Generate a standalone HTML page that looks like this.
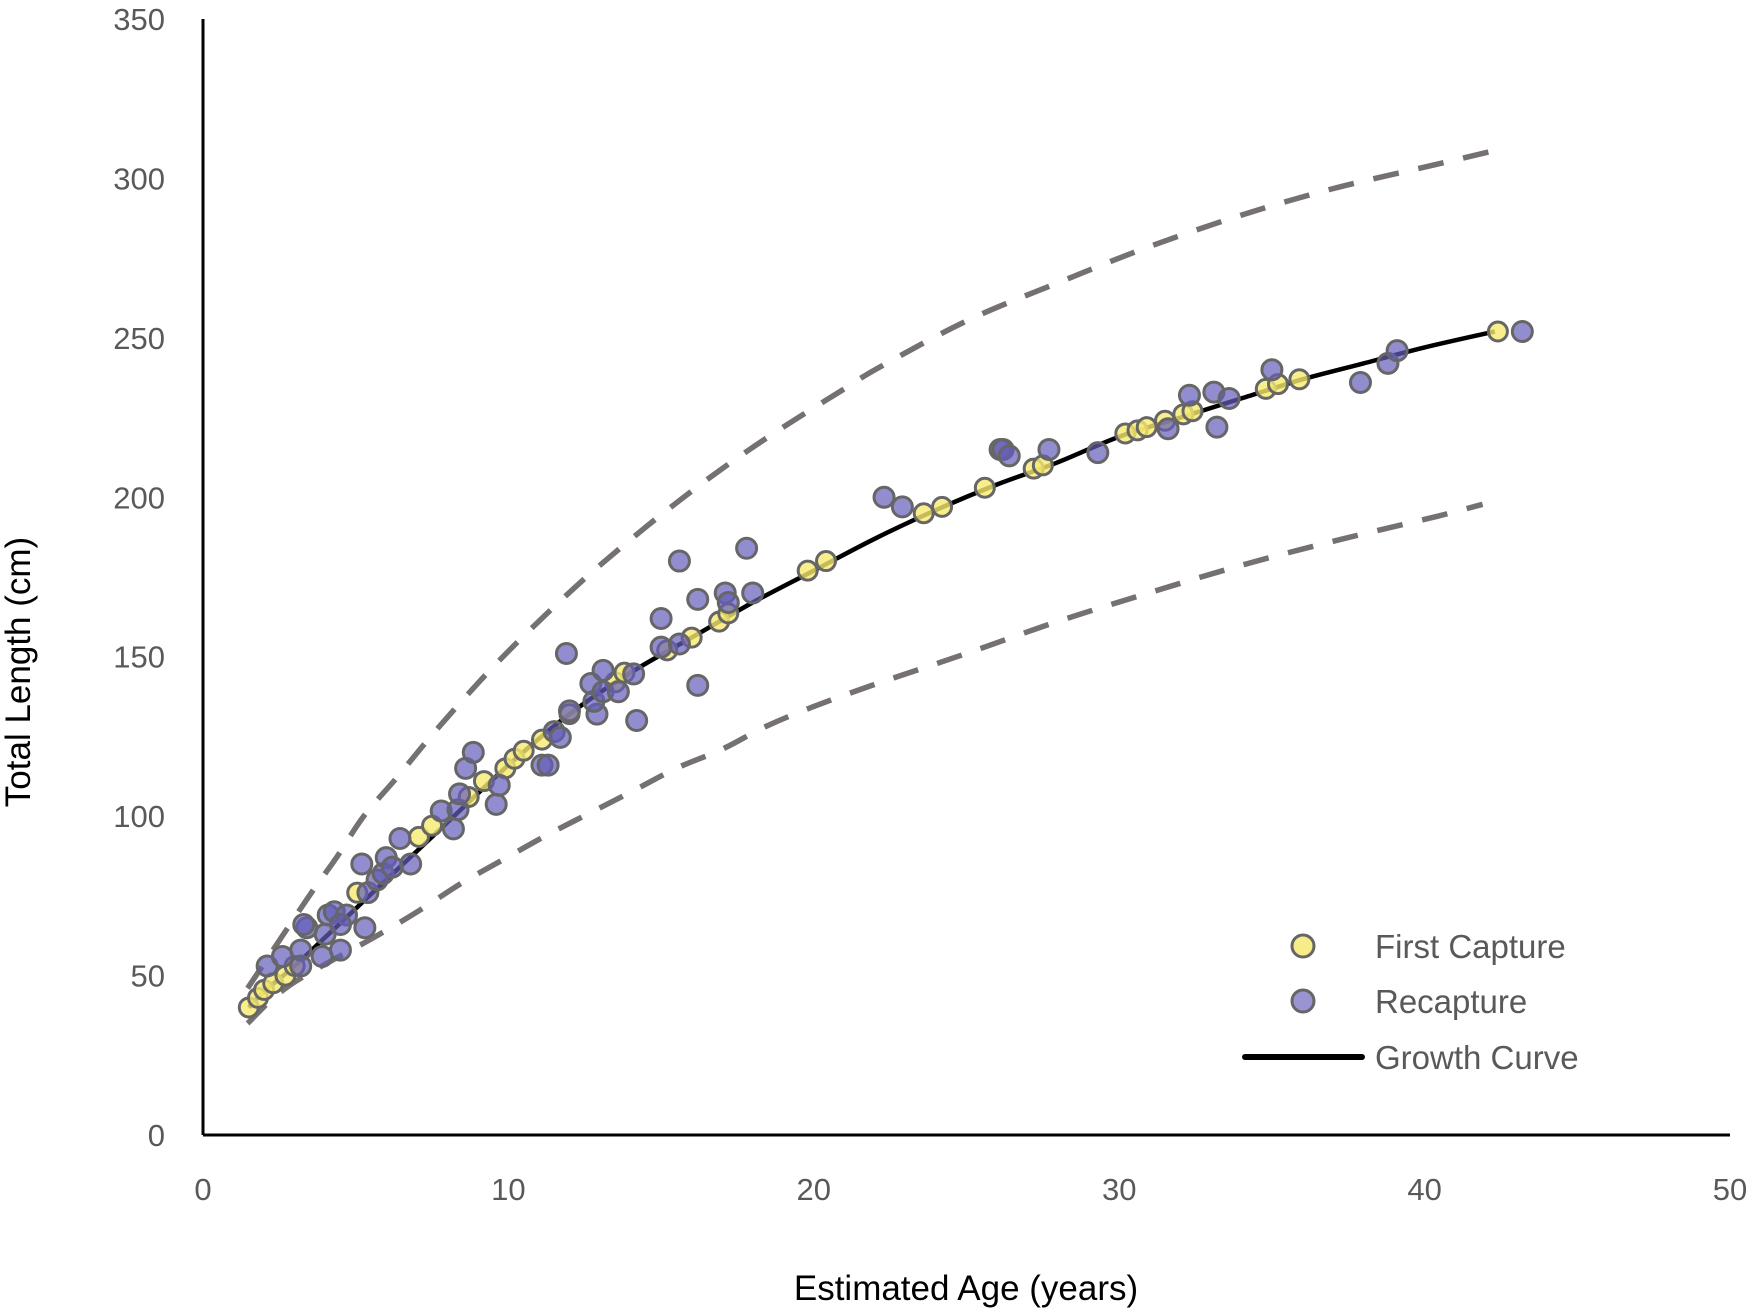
<!DOCTYPE html>
<html><head><meta charset="utf-8"><style>
html,body{margin:0;padding:0;background:#fff;}
svg{display:block;font-family:"Liberation Sans",sans-serif;}
</style></head><body>
<svg id="chart" width="1752" height="1312" viewBox="0 0 1752 1312" xmlns="http://www.w3.org/2000/svg">
<g id="lines"></g>
<g id="points"></g>
<g id="axes"></g>
<g id="legend">
  <circle cx="1303" cy="946" r="11" fill="#f7ec8a" stroke="#666" stroke-width="3"/>
  <text x="1375" y="958" font-size="33" fill="#595959">First Capture</text>
  <circle cx="1303" cy="1001" r="11" fill="#9a94d0" stroke="#666" stroke-width="3"/>
  <text x="1375" y="1013" font-size="33" fill="#595959">Recapture</text>
  <line x1="1245" y1="1057" x2="1362" y2="1057" stroke="#000" stroke-width="6" stroke-linecap="round"/>
  <text x="1375" y="1069" font-size="33" fill="#595959">Growth Curve</text>
</g>
<text x="966" y="1300" font-size="35" text-anchor="middle" fill="#000">Estimated Age (years)</text>
<text transform="translate(30,672) rotate(-90)" font-size="35" text-anchor="middle" fill="#000">Total Length (cm)</text>
</svg>
<script>
const xTicks = [0,10,20,30,40,50];
const yTicks = [0,50,100,150,200,250,300,350];
const curveAge = [1.5,2,3,4,5,6,8,10,12,14,16,18,20,22,24,26,28,30,32,34,36,38,40,42.3];
const curveLen = [40,45,53,62,71,80,98,116,132,145,156,167,177,187,196,204,211,219,225,231,237,242,247,252];
const upperAge = [1.46,3.4,4.35,5.25,6.34,7.37,8.42,9.5,10.64,11.8,13,15,17,19,21,22.1,25.0,28.0,30.9,34.0,37.0,40.2,42.2];
const upperLen = [46,73.9,86.7,99.8,112,124,135.5,146.8,157.8,168.4,178.7,194.5,209,222,234,240.5,255.3,267.3,278.3,288.5,296.8,304,308.5];
const lowerAge = [1.46,2.85,5.73,7.1,8.47,9.8,11.25,12.67,14.1,15.5,17,18.4,19.9,21.9,24.9,28,31.1,34.2,37.3,40.4,41.9];
const lowerLen = [35,47,62.7,70.5,79,86.2,94,101,108,115,121,128,134,141,150.7,161.1,170.4,179.2,186.9,194,197.8];
const firstAge = [1.5,1.8,2,2.3,2.7,3.0,5.05,7.07,7.5,8.7,9.2,9.9,10.2,10.5,11.1,12,13.5,13.8,15.2,16,16.9,17.2,19.8,20.4,23.6,24.2,25.6,27.2,27.5,30.2,30.6,30.9,31.5,32.1,32.4,34.8,35.2,35.9,42.4];
const firstLen = [40,43,45.5,47.6,50,53,76,93.5,97,106,111,115,118,120.5,124,132,142,145,152,156,161,163.6,177,180,195,197,203,209,210,220,221,222,224,226,227,234,235.5,237,252];
const recapAge = [2.1,2.6,3.2,3.4,3.3,3.2,3.9,4,4.1,4.3,4.5,4.7,4.5,5.2,5.3,5.4,5.7,5.9,6,6.2,6.45,6.8,7.8,8.2,8.35,8.4,8.6,8.85,9.6,9.7,11.1,11.3,11.5,11.7,11.9,12,12.7,12.9,12.8,13.1,13.1,13.6,14.2,14.1,15,15,15.6,15.6,16.2,16.2,17.1,17.2,17.8,18,22.3,22.9,26.1,26.2,26.4,27.7,29.3,32.3,31.6,33.1,33.2,33.6,35,37.9,38.8,39.1,43.2];
const recapLen = [53,56,58,65,66,53,56,63,69,70,58,69,66,85,65,76,80,82,87,84,93,85,101.6,96,102,107,115,120,103.7,109.7,116,116,126.5,124.7,151,133,141.6,132,136,145.7,139,139,130,144.6,162,153,180,154,168,141,170,167,184,170,200,197,215,215,213,215,214,232,221.5,233,222,231,240,236,242,246,252];

const X0=203, X1=1730, Y0=1135, Y1=19;
const xs = v => X0 + (v/50)*(X1-X0);
const ys = v => Y0 - (v/350)*(Y0-Y1);
const NS="http://www.w3.org/2000/svg";
function mk(tag, parent){const e=document.createElementNS(NS,tag);parent.appendChild(e);return e;}

const axes=document.getElementById('axes');
xTicks.forEach(t=>{
  const e=mk('text',axes);
  
  
  e.setAttribute('x',xs(t));e.setAttribute('y',1200);
  e.setAttribute('font-size','31');e.setAttribute('fill','#595959');e.setAttribute('text-anchor','middle');
  e.textContent=t;
});
yTicks.forEach(t=>{
  const e=mk('text',axes);
  
  
  e.setAttribute('x',165);e.setAttribute('y',ys(t)+11);
  e.setAttribute('font-size','31');e.setAttribute('fill','#595959');e.setAttribute('text-anchor','end');
  e.textContent=t;
});
const ya=mk('line',axes);


ya.setAttribute('x1',X0);ya.setAttribute('x2',X0);ya.setAttribute('y1',Y1);ya.setAttribute('y2',Y0);ya.setAttribute('stroke','#000');ya.setAttribute('stroke-width','3');
const xa=mk('line',axes);


xa.setAttribute('x1',X0);xa.setAttribute('x2',X1);xa.setAttribute('y1',Y0);xa.setAttribute('y2',Y0);xa.setAttribute('stroke','#000');xa.setAttribute('stroke-width','3');

const lines=document.getElementById('lines');
function path(ax,ay){
  const p=ax.map((a,i)=>[xs(a),ys(ay[i])]);
  let d='M'+p[0][0].toFixed(1)+' '+p[0][1].toFixed(1);
  for(let i=0;i<p.length-1;i++){
    const p0=p[Math.max(0,i-1)],p1=p[i],p2=p[i+1],p3=p[Math.min(p.length-1,i+2)];
    const c1=[p1[0]+(p2[0]-p0[0])/6,p1[1]+(p2[1]-p0[1])/6];
    const c2=[p2[0]-(p3[0]-p1[0])/6,p2[1]-(p3[1]-p1[1])/6];
    d+=' C'+c1[0].toFixed(1)+' '+c1[1].toFixed(1)+' '+c2[0].toFixed(1)+' '+c2[1].toFixed(1)+' '+p2[0].toFixed(1)+' '+p2[1].toFixed(1);
  }
  return d;
}
const up=mk('path',lines);


up.setAttribute('d',path(upperAge,upperLen));up.setAttribute('fill','none');up.setAttribute('stroke','#767171');up.setAttribute('stroke-width','5.5');up.setAttribute('stroke-dasharray','26 20');
const lo=mk('path',lines);


lo.setAttribute('d',path(lowerAge,lowerLen));lo.setAttribute('fill','none');lo.setAttribute('stroke','#767171');lo.setAttribute('stroke-width','5.5');lo.setAttribute('stroke-dasharray','26 20');
const gc=mk('path',lines);


gc.setAttribute('d',path(curveAge,curveLen));gc.setAttribute('fill','none');gc.setAttribute('stroke','#000');gc.setAttribute('stroke-width','4.5');

const pts=document.getElementById('points');
firstAge.forEach((a,i)=>{
  const c=mk('circle',pts);
  
  
  c.setAttribute('cx',xs(a));c.setAttribute('cy',ys(firstLen[i]));c.setAttribute('r','9.5');
  c.setAttribute('fill','rgba(246,234,110,0.8)');c.setAttribute('stroke','#666');c.setAttribute('stroke-width','3');
});
recapAge.forEach((a,i)=>{
  const c=mk('circle',pts);
  
  
  c.setAttribute('cx',xs(a));c.setAttribute('cy',ys(recapLen[i]));c.setAttribute('r','10');
  c.setAttribute('fill','rgba(100,92,185,0.7)');c.setAttribute('stroke','#666');c.setAttribute('stroke-width','3');
});
</script>
</body></html>
